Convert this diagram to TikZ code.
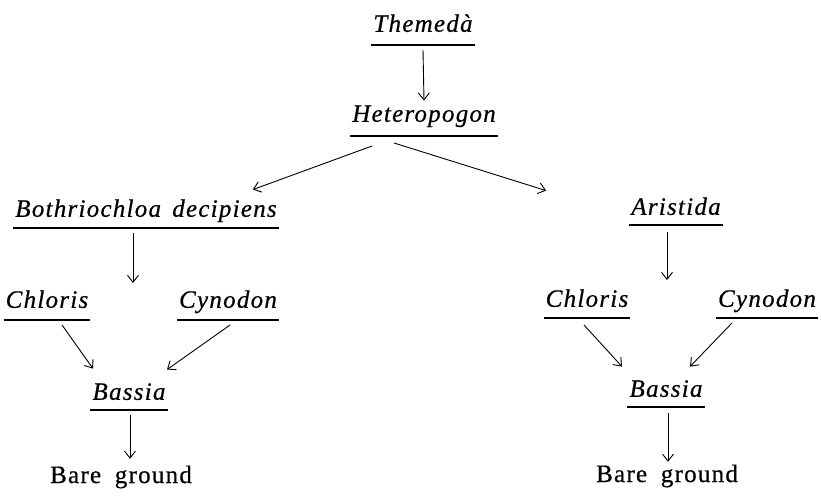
\documentclass[tikz,border=0pt]{standalone}
\usepackage{fontspec}
\setmainfont{Liberation Serif}[LetterSpace=5, FakeBold=0.6]
\usetikzlibrary{arrows.meta}
\tikzset{
  sp/.style={font=\fontsize{25pt}{29pt}\selectfont\itshape, inner xsep=2pt, inner ysep=0pt,
    text height=16pt, text depth=#1, anchor=south,
    append after command={(\tikzlastnode.south west) edge[ul] (\tikzlastnode.south east)}},
  sp/.default=11pt,
  ul/.style={draw, line width=1.7pt},
  plain/.style={font=\fontsize{25pt}{29pt}\selectfont, inner xsep=2pt, inner ysep=0pt,
    text height=16pt, text depth=0pt, anchor=base},
  arr/.style={draw, line width=0.9pt, -{Straight Barb[length=7pt,width=11pt,line width=0.9pt]}}
}
\begin{document}
\begin{tikzpicture}[x=1pt,y=-1pt]
\useasboundingbox (0,0) rectangle (821,495);
% nodes (anchor south = underline position)
\node[sp=13pt] (them) at (423,45) {Themedà};
\node[sp=14pt] (het) at (424,136) {Heteropogon};
\node[sp=11pt] (both) at (146,228) {Bothriochloa\hspace{0.45em}decipiens};
\node[sp=10pt] (ari) at (676,225) {Aristida};
\node[sp=12pt] (chl1) at (47,320) {Chloris};
\node[sp=12pt] (cyn1) at (228,320) {Cynodon};
\node[sp=10pt] (bas1) at (129,410) {Bassia};
\node[sp=11pt] (chl2) at (587,318) {Chloris};
\node[sp=11pt] (cyn2) at (767,318) {Cynodon};
\node[sp=10pt] (bas2) at (666,407) {Bassia};
\node[plain] (bare1) at (121,483) {Bare\hspace{0.55em}ground};
\node[plain] (bare2) at (667,482) {Bare\hspace{0.55em}ground};
% connectors
\draw[arr] ([yshift=-5pt]them.south) -- ([yshift=5pt]het.north);
\draw[arr] ([xshift=-52pt,yshift=-10pt]het.south) -- ([xshift=-26pt,yshift=11pt]both.north east);
\draw[arr] ([xshift=-30pt,yshift=-7pt]het.south) -- ([xshift=-83pt,yshift=8pt]ari.north west);
\coordinate (lmid) at ([xshift=-13pt,yshift=-55pt]both.south);
\draw[arr] ([xshift=-13pt,yshift=-5pt]both.south) -- (lmid);
\coordinate (rmid) at ([xshift=-9pt,yshift=-55pt]ari.south);
\draw[arr] ([xshift=-9pt,yshift=-7pt]ari.south) -- (rmid);
\draw[arr] ([xshift=15pt,yshift=-5pt]chl1.south) -- ([xshift=-36pt,yshift=15pt]bas1.north);
\draw[arr] ([xshift=2pt,yshift=-5pt]cyn1.south) -- ([xshift=38pt,yshift=14pt]bas1.north);
\draw[arr] ([xshift=1pt,yshift=-5pt]bas1.south) -- ([xshift=9pt,yshift=8pt]bare1.north);
\draw[arr] ([xshift=-3pt,yshift=-7pt]chl2.south) -- ([xshift=-44pt,yshift=14pt]bas2.north);
\draw[arr] ([xshift=-35pt,yshift=-5pt]cyn2.south) -- ([xshift=24pt,yshift=14pt]bas2.north);
\draw[arr] ([xshift=2pt,yshift=-6pt]bas2.south) -- ([xshift=1pt,yshift=4pt]bare2.north);
\end{tikzpicture}
\end{document}
